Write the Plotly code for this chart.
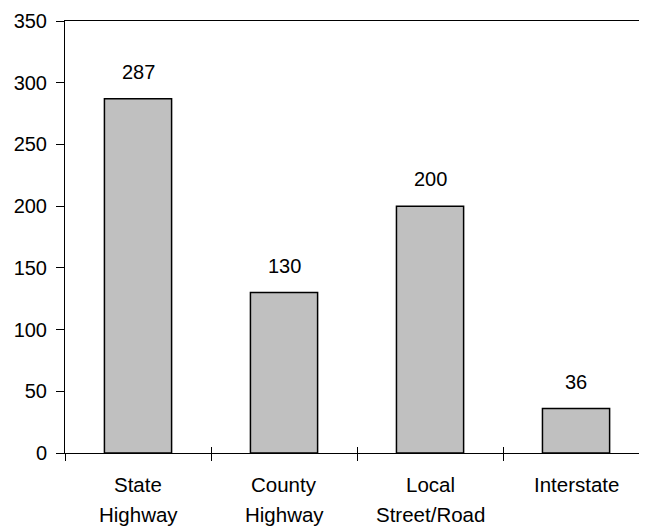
import plotly.graph_objects as go

categories = ["State Highway", "County Highway", "Local Street/Road", "Interstate"]
label_line1 = ["State", "County", "Local", "Interstate"]
label_line2 = ["Highway", "Highway", "Street/Road", ""]
values = [287, 130, 200, 36]
label_text = ["287", "130", "200", "36"]

FONT = "Liberation Sans, Arial, sans-serif"

fig = go.Figure()
fig.add_trace(go.Bar(
    x=categories, y=values, width=0.46,
    marker=dict(color="#C0C0C0", line=dict(color="black", width=1.5)),
    hoverinfo="skip",
))
# invisible trace to give the overlay axis its categories (inside ticks)
fig.add_trace(go.Scatter(
    x=categories, y=values, xaxis="x2", mode="markers",
    marker=dict(opacity=0), hoverinfo="skip", showlegend=False,
))

for c, v, t in zip(categories, values, label_text):
    fig.add_annotation(x=c, y=v, text=t, showarrow=False, yanchor="bottom",
                       yshift=14, font=dict(size=20, color="black", family=FONT))

# two-line category labels (Excel-like line spacing)
for c, l1, l2 in zip(categories, label_line1, label_line2):
    fig.add_annotation(x=c, xref="x", y=0, yref="paper", text=l1, showarrow=False,
                       yanchor="middle", yshift=-31,
                       font=dict(size=20.5, color="black", family=FONT))
    if l2:
        fig.add_annotation(x=c, xref="x", y=0, yref="paper", text=l2, showarrow=False,
                           yanchor="middle", yshift=-61,
                           font=dict(size=20.5, color="black", family=FONT))

xr = [-0.5, 3.486]
fig.update_layout(
    width=639, height=519,
    margin=dict(l=57, r=0, t=13, b=74),
    paper_bgcolor="white", plot_bgcolor="white",
    showlegend=False,
    font=dict(family=FONT, size=20, color="black"),
    xaxis=dict(
        type="category", range=xr, showgrid=False, zeroline=False,
        showline=True, linecolor="black", linewidth=1, mirror=True,
        ticks="outside", tickson="boundaries", ticklen=7, tickcolor="black",
        showticklabels=False,
    ),
    xaxis2=dict(
        type="category", range=xr, overlaying="x", anchor="y", side="bottom",
        showgrid=False, zeroline=False, showline=False,
        ticks="inside", tickson="boundaries", ticklen=6, tickcolor="black",
        showticklabels=False,
    ),
    yaxis=dict(
        range=[0, 350], dtick=50, showgrid=False, zeroline=False,
        showline=True, linecolor="black", linewidth=1,
        ticks="outside", ticklen=8, tickcolor="black", ticklabelstandoff=5,
        tickfont=dict(size=20, family=FONT, color="black"),
    ),
)

fig.write_html("out.html")
